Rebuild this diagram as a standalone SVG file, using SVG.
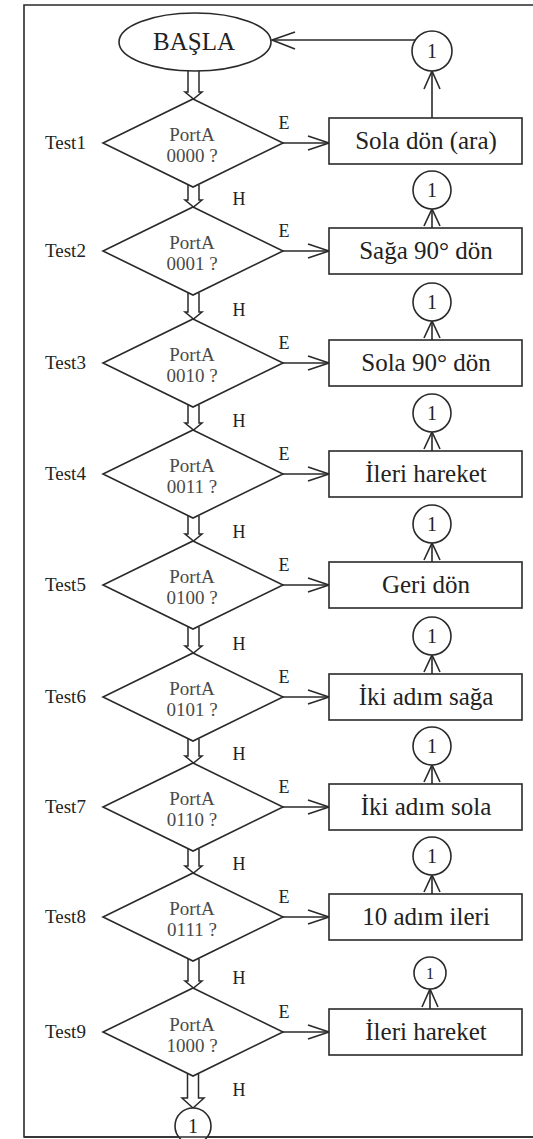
<svg xmlns="http://www.w3.org/2000/svg" width="533" height="1139" viewBox="0 0 533 1139">
<style>
.ln{fill:none;stroke:#2a2a2a;stroke-width:1.6}
.nd{fill:#fff;stroke:#2a2a2a;stroke-width:1.6}
.blk{fill:#fff;stroke:#2a2a2a;stroke-width:1.5;stroke-linejoin:miter}
text{font-family:"Liberation Serif","Times New Roman",serif;fill:#222}
.bx{font-size:25px;text-anchor:middle}
.tl{font-size:19px}
.pa{font-size:19px;text-anchor:middle;fill:#4a4a4a}
.lb{font-size:18px;text-anchor:middle}
.one{font-size:20px;text-anchor:middle}
</style>
<rect width="533" height="1139" fill="#fff"/>
<path class="ln" d="M533,5 H24 V1137 H533"/>
<g id="connectors">
<line class="ln" x1="415" y1="40" x2="272" y2="40"/>
<polyline class="ln" points="295,32 272,40 295,49"/>
<line class="ln" x1="432" y1="118" x2="432" y2="71"/>
<polyline class="ln" points="424,89 432,71 440,89"/>
<path class="blk" d="M188,69 V92 H185 L193.5,99 L202,92 H199 V69"/>
<path class="blk" d="M188,185 V200 H185 L193.5,207 L202,200 H199 V185"/>
<path class="blk" d="M188,293 V312 H185 L193.5,319 L202,312 H199 V293"/>
<path class="blk" d="M188,405 V423 H185 L193.5,430 L202,423 H199 V405"/>
<path class="blk" d="M188,516 V534 H185 L193.5,541 L202,534 H199 V516"/>
<path class="blk" d="M188,627 V646 H185 L193.5,653 L202,646 H199 V627"/>
<path class="blk" d="M188,739 V756 H185 L193.5,763 L202,756 H199 V739"/>
<path class="blk" d="M188,849 V866 H185 L193.5,873 L202,866 H199 V849"/>
<path class="blk" d="M188,959 V981 H185 L193.5,988 L202,981 H199 V959"/>
<path class="blk" d="M187.5,1074 V1098 H182 L193,1108 L204,1098 H198.5 V1074"/>
<line class="ln" x1="283" y1="143" x2="329" y2="143"/><polyline class="ln" points="308,136 329,143 308,150"/>
<line class="ln" x1="283" y1="251" x2="329" y2="251"/><polyline class="ln" points="308,244 329,251 308,258"/>
<line class="ln" x1="283" y1="363" x2="329" y2="363"/><polyline class="ln" points="308,356 329,363 308,370"/>
<line class="ln" x1="283" y1="474" x2="329" y2="474"/><polyline class="ln" points="308,467 329,474 308,481"/>
<line class="ln" x1="283" y1="585" x2="329" y2="585"/><polyline class="ln" points="308,578 329,585 308,592"/>
<line class="ln" x1="283" y1="697" x2="329" y2="697"/><polyline class="ln" points="308,690 329,697 308,704"/>
<line class="ln" x1="283" y1="807" x2="329" y2="807"/><polyline class="ln" points="308,800 329,807 308,814"/>
<line class="ln" x1="283" y1="917" x2="329" y2="917"/><polyline class="ln" points="308,910 329,917 308,924"/>
<line class="ln" x1="283" y1="1032" x2="329" y2="1032"/><polyline class="ln" points="308,1025 329,1032 308,1039"/>
<line class="ln" x1="432" y1="228" x2="432" y2="209"/><polyline class="ln" points="424,226 432,209 440,226"/>
<line class="ln" x1="432" y1="340" x2="432" y2="321"/><polyline class="ln" points="424,338 432,321 440,338"/>
<line class="ln" x1="432" y1="451" x2="432" y2="432"/><polyline class="ln" points="424,449 432,432 440,449"/>
<line class="ln" x1="432" y1="562" x2="432" y2="543"/><polyline class="ln" points="424,560 432,543 440,560"/>
<line class="ln" x1="432" y1="674" x2="432" y2="655"/><polyline class="ln" points="424,672 432,655 440,672"/>
<line class="ln" x1="432" y1="784" x2="432" y2="765"/><polyline class="ln" points="424,782 432,765 440,782"/>
<line class="ln" x1="432" y1="894" x2="432" y2="875"/><polyline class="ln" points="424,892 432,875 440,892"/>
<line class="ln" x1="430" y1="1009" x2="430" y2="989"/><polyline class="ln" points="422,1007 430,989 438,1007"/>
<text class="lb" x="284" y="129">E</text>
<text class="lb" x="284" y="237">E</text>
<text class="lb" x="284" y="349">E</text>
<text class="lb" x="284" y="460">E</text>
<text class="lb" x="284" y="571">E</text>
<text class="lb" x="284" y="683">E</text>
<text class="lb" x="284" y="793">E</text>
<text class="lb" x="284" y="903">E</text>
<text class="lb" x="284" y="1018">E</text>
<text class="lb" x="239" y="205">H</text>
<text class="lb" x="239" y="316">H</text>
<text class="lb" x="239" y="427">H</text>
<text class="lb" x="239" y="538">H</text>
<text class="lb" x="239" y="650">H</text>
<text class="lb" x="239" y="760">H</text>
<text class="lb" x="239" y="870">H</text>
<text class="lb" x="239" y="984">H</text>
<text class="lb" x="239" y="1096">H</text>
</g>
<g id="start">
<ellipse class="nd" cx="195" cy="42" rx="76" ry="29"/>
<text class="bx" x="194" y="50">BAŞLA</text>
</g>
<g id="c-top"><circle class="nd" cx="432" cy="51" r="20"/><text class="one" x="432" y="58">1</text></g>
<g id="test1">
<polygon class="nd" points="193,99 283,143 193,187 103,143"/>
<text class="tl" x="45" y="149">Test1</text>
<text class="pa" x="192" y="141">PortA</text><text class="pa" x="192" y="162">0000 ?</text>
</g>
<g id="box1"><rect class="nd" x="329" y="118" width="193" height="46"/><text class="bx" x="426" y="149">Sola dön (ara)</text></g>
<g id="test2">
<polygon class="nd" points="193,207 283,251 193,295 103,251"/>
<text class="tl" x="45" y="257">Test2</text>
<text class="pa" x="192" y="249">PortA</text><text class="pa" x="192" y="270">0001 ?</text>
</g>
<g id="box2"><rect class="nd" x="329" y="228" width="193" height="46"/><text class="bx" x="426" y="259">Sağa 90° dön</text></g>
<g id="c2"><circle class="nd" cx="432" cy="190" r="19"/><text class="one" x="432" y="197">1</text></g>
<g id="test3">
<polygon class="nd" points="193,319 283,363 193,407 103,363"/>
<text class="tl" x="45" y="369">Test3</text>
<text class="pa" x="192" y="361">PortA</text><text class="pa" x="192" y="382">0010 ?</text>
</g>
<g id="box3"><rect class="nd" x="329" y="340" width="193" height="46"/><text class="bx" x="426" y="371">Sola 90° dön</text></g>
<g id="c3"><circle class="nd" cx="432" cy="302" r="19"/><text class="one" x="432" y="309">1</text></g>
<g id="test4">
<polygon class="nd" points="193,430 283,474 193,518 103,474"/>
<text class="tl" x="45" y="480">Test4</text>
<text class="pa" x="192" y="472">PortA</text><text class="pa" x="192" y="493">0011 ?</text>
</g>
<g id="box4"><rect class="nd" x="329" y="451" width="193" height="46"/><text class="bx" x="426" y="482">İleri hareket</text></g>
<g id="c4"><circle class="nd" cx="432" cy="413" r="19"/><text class="one" x="432" y="420">1</text></g>
<g id="test5">
<polygon class="nd" points="193,541 283,585 193,629 103,585"/>
<text class="tl" x="45" y="591">Test5</text>
<text class="pa" x="192" y="583">PortA</text><text class="pa" x="192" y="604">0100 ?</text>
</g>
<g id="box5"><rect class="nd" x="329" y="562" width="193" height="46"/><text class="bx" x="426" y="593">Geri dön</text></g>
<g id="c5"><circle class="nd" cx="432" cy="524" r="19"/><text class="one" x="432" y="531">1</text></g>
<g id="test6">
<polygon class="nd" points="193,653 283,697 193,741 103,697"/>
<text class="tl" x="45" y="703">Test6</text>
<text class="pa" x="192" y="695">PortA</text><text class="pa" x="192" y="716">0101 ?</text>
</g>
<g id="box6"><rect class="nd" x="329" y="674" width="193" height="46"/><text class="bx" x="426" y="705">İki adım sağa</text></g>
<g id="c6"><circle class="nd" cx="432" cy="636" r="19"/><text class="one" x="432" y="643">1</text></g>
<g id="test7">
<polygon class="nd" points="193,763 283,807 193,851 103,807"/>
<text class="tl" x="45" y="813">Test7</text>
<text class="pa" x="192" y="805">PortA</text><text class="pa" x="192" y="826">0110 ?</text>
</g>
<g id="box7"><rect class="nd" x="329" y="784" width="193" height="46"/><text class="bx" x="426" y="815">İki adım sola</text></g>
<g id="c7"><circle class="nd" cx="432" cy="746" r="19"/><text class="one" x="432" y="753">1</text></g>
<g id="test8">
<polygon class="nd" points="193,873 283,917 193,961 103,917"/>
<text class="tl" x="45" y="923">Test8</text>
<text class="pa" x="192" y="915">PortA</text><text class="pa" x="192" y="936">0111 ?</text>
</g>
<g id="box8"><rect class="nd" x="329" y="894" width="193" height="46"/><text class="bx" x="426" y="925">10 adım ileri</text></g>
<g id="c8"><circle class="nd" cx="432" cy="856" r="19"/><text class="one" x="432" y="863">1</text></g>
<g id="test9">
<polygon class="nd" points="193,988 283,1032 193,1076 103,1032"/>
<text class="tl" x="45" y="1038">Test9</text>
<text class="pa" x="192" y="1031">PortA</text><text class="pa" x="192" y="1052">1000 ?</text>
</g>
<g id="box9"><rect class="nd" x="329" y="1009" width="193" height="46"/><text class="bx" x="426" y="1040">İleri hareket</text></g>
<g id="c9"><circle class="nd" cx="430" cy="973" r="16"/><text class="one" x="430" y="979" style="font-size:16px">1</text></g>
<g id="c-bottom"><circle class="nd" cx="193" cy="1126" r="18"/><text class="one" x="193" y="1133">1</text></g>
<path class="ln" d="M24,1137 H533"/>
</svg>
